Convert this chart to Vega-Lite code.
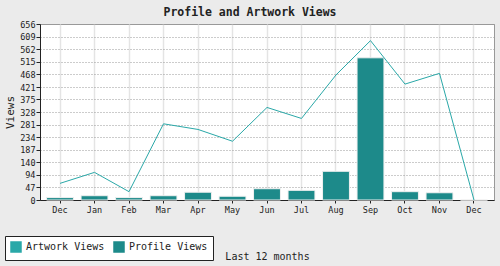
{
  "$schema": "https://vega.github.io/schema/vega-lite/v6.json",
  "width": 454,
  "height": 176,
  "autosize": {"type": "none"},
  "padding": {"left": 40, "top": 24, "right": 6, "bottom": 66},
  "background": "#ebebeb",
  "title": {
    "text": "Profile and Artwork Views",
    "font": "DejaVu Sans Mono",
    "fontSize": 11.5,
    "fontWeight": "bold",
    "color": "#222222",
    "anchor": "middle",
    "frame": "group",
    "dx": -17,
    "offset": 2
  },
  "config": {
    "view": {"fill": "white", "stroke": "#999999", "strokeWidth": 1},
    "font": "DejaVu Sans Mono"
  },
  "data": {
    "values": [
      {"i": 0, "series": "Artwork Views", "views": 62},
      {"i": 1, "series": "Artwork Views", "views": 103},
      {"i": 2, "series": "Artwork Views", "views": 31},
      {"i": 3, "series": "Artwork Views", "views": 284},
      {"i": 4, "series": "Artwork Views", "views": 263},
      {"i": 5, "series": "Artwork Views", "views": 219},
      {"i": 6, "series": "Artwork Views", "views": 345},
      {"i": 7, "series": "Artwork Views", "views": 304},
      {"i": 8, "series": "Artwork Views", "views": 466},
      {"i": 9, "series": "Artwork Views", "views": 594},
      {"i": 10, "series": "Artwork Views", "views": 432},
      {"i": 11, "series": "Artwork Views", "views": 472},
      {"i": 12, "series": "Artwork Views", "views": 0},
      {"i": 0, "series": "Profile Views", "views": 9},
      {"i": 1, "series": "Profile Views", "views": 16},
      {"i": 2, "series": "Profile Views", "views": 9},
      {"i": 3, "series": "Profile Views", "views": 16},
      {"i": 4, "series": "Profile Views", "views": 29},
      {"i": 5, "series": "Profile Views", "views": 14},
      {"i": 6, "series": "Profile Views", "views": 42},
      {"i": 7, "series": "Profile Views", "views": 36},
      {"i": 8, "series": "Profile Views", "views": 107},
      {"i": 9, "series": "Profile Views", "views": 530},
      {"i": 10, "series": "Profile Views", "views": 31},
      {"i": 11, "series": "Profile Views", "views": 27},
      {"i": 12, "series": "Profile Views", "views": 0}
    ]
  },
  "encoding": {
    "x": {
      "field": "i",
      "type": "ordinal",
      "scale": {"paddingInner": 0.22, "paddingOuter": 0.19},
      "axis": {
        "title": "Last 12 months",
        "titleFontSize": 10,
        "titleFontWeight": "normal",
        "titleColor": "#222222",
        "titlePadding": 38,
        "labelExpr": "['Dec','Jan','Feb','Mar','Apr','May','Jun','Jul','Aug','Sep','Oct','Nov','Dec'][datum.value]",
        "labelAngle": 0,
        "labelFontSize": 8.5,
        "labelColor": "#222222",
        "labelPadding": 2,
        "ticks": true,
        "tickSize": 3,
        "tickColor": "#222222",
        "bandPosition": 0.5,
        "domainColor": "#222222",
        "grid": true,
        "gridColor": "#e4e4e4",
        "gridWidth": 1.5
      }
    },
    "y": {
      "field": "views",
      "type": "quantitative",
      "scale": {"domain": [0, 656], "nice": false},
      "axis": {
        "title": "Views",
        "titleFontSize": 11,
        "titleFontWeight": "normal",
        "titleColor": "#222222",
        "titlePadding": 4,
        "values": [0, 47, 94, 140, 187, 234, 281, 328, 375, 421, 468, 515, 562, 609, 656],
        "labelFontSize": 8.5,
        "labelColor": "#222222",
        "labelPadding": 1,
        "tickSize": 4,
        "tickColor": "#222222",
        "domainColor": "#222222",
        "grid": true,
        "gridColor": "#999999",
        "gridDash": [1, 2],
        "gridWidth": 1
      }
    }
  },
  "layer": [
    {
      "transform": [{"filter": "datum.series === 'Profile Views'"}],
      "mark": {"type": "bar", "stroke": "#f0f0f0", "strokeWidth": 1},
      "encoding": {
        "color": {
          "field": "series",
          "type": "nominal",
          "scale": {"domain": ["Artwork Views", "Profile Views"], "range": ["#2aa8a8", "#1d8a8a"]},
          "legend": {
            "orient": "none",
            "legendX": -35,
            "legendY": 212,
            "direction": "horizontal",
            "title": null,
            "fillColor": "white",
            "strokeColor": "#222222",
            "padding": 5,
            "symbolType": "square",
            "symbolSize": 100,
            "symbolStrokeColor": "#333333",
            "symbolStrokeWidth": 1.5,
            "labelFontSize": 10,
            "labelColor": "#222222",
            "labelOffset": 4,
            "columnPadding": 6,
            "encode": {
              "symbols": {
                "update": {
                  "fill": {"scale": "color", "field": "value"},
                  "fillOpacity": {"value": 1},
                  "stroke": {"value": "#333333"}
                }
              }
            }
          }
        }
      }
    },
    {
      "transform": [{"filter": "datum.series === 'Artwork Views'"}],
      "mark": {"type": "line", "strokeWidth": 1},
      "encoding": {
        "color": {"field": "series", "type": "nominal"}
      }
    }
  ]
}
